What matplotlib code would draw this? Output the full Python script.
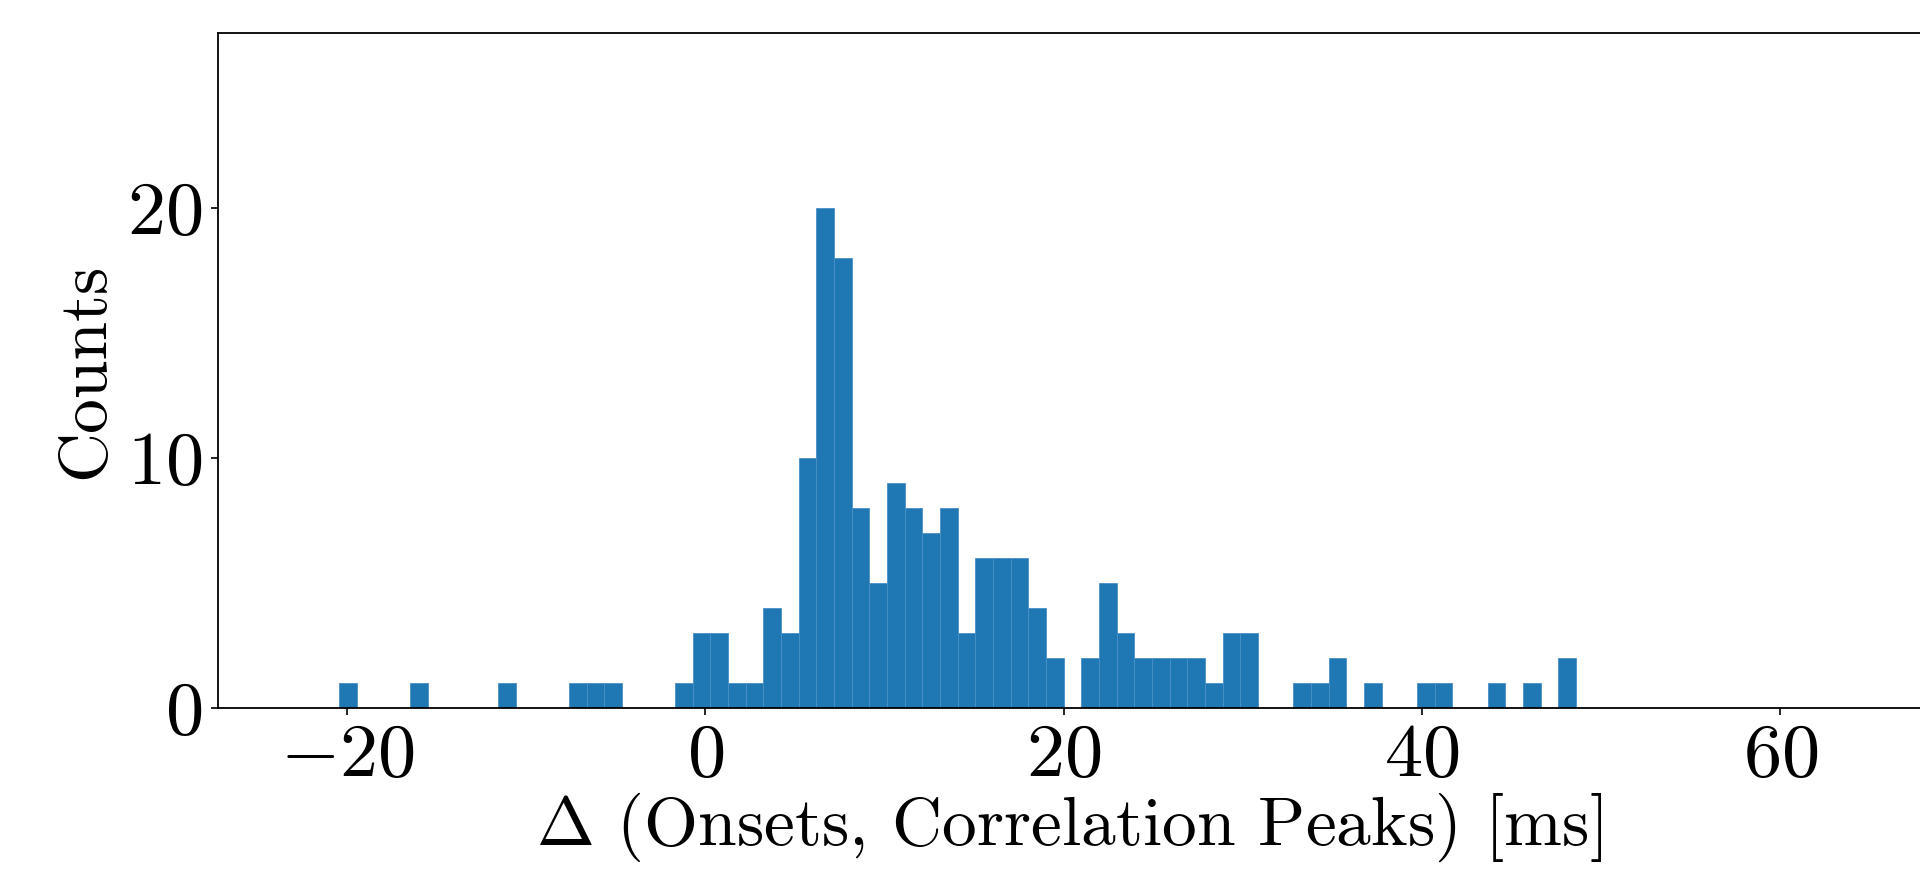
import numpy as np
import matplotlib
matplotlib.use("Agg")
import matplotlib.pyplot as plt

plt.rcParams['font.family'] = 'serif'
plt.rcParams['font.serif'] = ['cmr10']
plt.rcParams['mathtext.fontset'] = 'cm'
plt.rcParams['axes.formatter.use_mathtext'] = True

# histogram: 70 equal bins starting at BIN_START
BIN_START = -20.42
BIN_WIDTH = 0.986
counts = [1, 0, 0, 0, 1, 0, 0, 0, 0, 1,
          0, 0, 0, 1, 1, 1, 0, 0, 0, 1,
          3, 3, 1, 1, 4, 3, 10, 20, 18, 8,
          5, 9, 8, 7, 8, 3, 6, 6, 6, 4,
          2, 0, 2, 5, 3, 2, 2, 2, 2, 1,
          3, 3, 0, 0, 1, 1, 2, 0, 1, 0,
          0, 1, 1, 0, 0, 1, 0, 1, 0, 2]
xticks = [-20, 0, 20, 40, 60]
yticks = [0, 10, 20]

edges = BIN_START + BIN_WIDTH * np.arange(len(counts) + 1)
centers = 0.5 * (edges[:-1] + edges[1:])

fig = plt.figure(figsize=(19.2, 8.73), dpi=100)
# original is cropped at the right edge, so the right spine is not shown
ax = fig.add_axes([0.1135, 0.189, 0.8865, 0.7732])
ax.hist(centers, bins=edges, weights=counts, color='#1f77b4',
        edgecolor='#4a90c8', linewidth=0.6)

ax.set_xlim(-27.2, 67.8)
ax.set_ylim(0, 27)
ax.set_xticks(xticks)
ax.set_yticks(yticks)
ax.tick_params(labelsize=55, length=5, width=1.2, pad=6)
for s in ax.spines.values():
    s.set_linewidth(1.3)
ax.spines['right'].set_visible(False)

ax.set_xlabel(r"$\Delta$ (Onsets, Correlation Peaks) [ms]", fontsize=50, labelpad=0)
ax.set_ylabel("Counts", fontsize=50, labelpad=8)

fig.savefig("out.png", dpi=100)
